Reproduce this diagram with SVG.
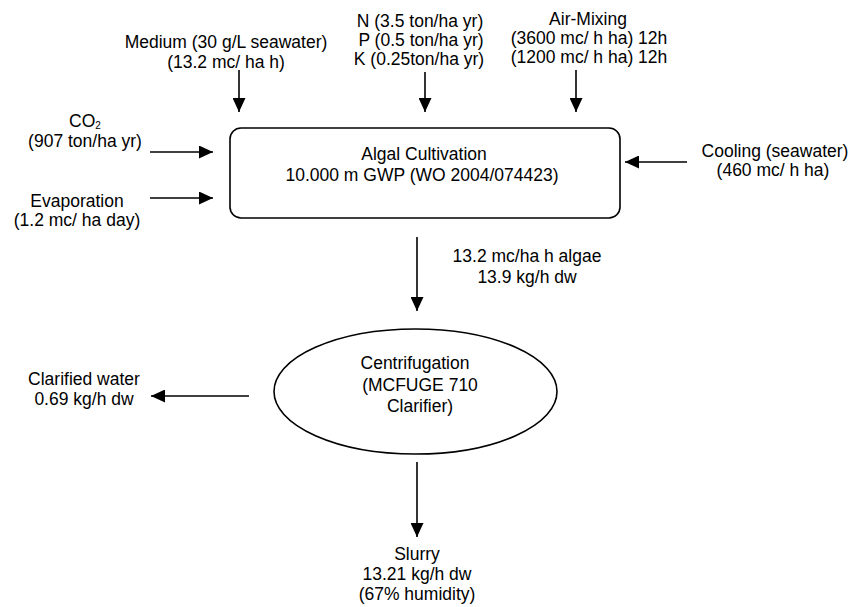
<svg xmlns="http://www.w3.org/2000/svg" width="851" height="607" viewBox="0 0 851 607">
  <defs>
    <marker id="arrow" viewBox="0 0 14 13" refX="14" refY="6.5" markerWidth="14" markerHeight="13" markerUnits="userSpaceOnUse" orient="auto">
      <path d="M0,0 L14,6.5 L0,13 Z" fill="#000"/>
    </marker>
    <style>
      text { font-family: "Liberation Sans", Arial, Helvetica, sans-serif; font-size: 17.5px; fill: #000; text-anchor: middle; }
      .shape { fill: #fff; stroke: #000; stroke-width: 1.6; }
      .flow { stroke: #000; stroke-width: 1.6; fill: none; marker-end: url(#arrow); }
    </style>
  </defs>
  <rect width="851" height="607" fill="#fff"/>

  <!-- process nodes -->
  <g id="algal-cultivation">
    <rect class="shape" x="230" y="128" width="390" height="90" rx="11" ry="11"/>
    <text x="424" y="160">Algal Cultivation</text>
    <text x="422" y="181">10.000 m GWP (WO 2004/074423)</text>
  </g>
  <g id="centrifugation">
    <ellipse class="shape" cx="415.5" cy="391.5" rx="141.5" ry="62.5"/>
    <text x="415" y="369">Centrifugation</text>
    <text x="420" y="391">(MCFUGE 710</text>
    <text x="420" y="412">Clarifier)</text>
  </g>

  <!-- inputs and outputs -->
  <g id="medium">
    <text x="226" y="48">Medium (30 g/L seawater)</text>
    <text x="226" y="68">(13.2 mc/ ha h)</text>
  </g>
  <g id="nutrients">
    <text x="420" y="27">N (3.5 ton/ha yr)</text>
    <text x="421" y="46">P (0.5 ton/ha yr)</text>
    <text x="419" y="65">K (0.25ton/ha yr)</text>
  </g>
  <g id="air-mixing">
    <text x="588" y="25">Air-Mixing</text>
    <text x="589" y="44">(3600 mc/ h ha) 12h</text>
    <text x="589" y="63">(1200 mc/ h ha) 12h</text>
  </g>
  <g id="co2">
    <text x="85" y="127">CO<tspan font-size="10" dy="2">2</tspan></text>
    <text x="85" y="147">(907 ton/ha yr)</text>
  </g>
  <g id="evaporation">
    <text x="77" y="207">Evaporation</text>
    <text x="77" y="226">(1.2 mc/ ha day)</text>
  </g>
  <g id="cooling">
    <text x="775" y="157">Cooling (seawater)</text>
    <text x="773" y="176">(460 mc/ h ha)</text>
  </g>
  <g id="algae-flow">
    <text x="527" y="262">13.2 mc/ha h algae</text>
    <text x="527" y="283">13.9 kg/h dw</text>
  </g>
  <g id="clarified-water">
    <text x="84" y="385">Clarified water</text>
    <text x="84" y="405">0.69 kg/h dw</text>
  </g>
  <g id="slurry">
    <text x="417" y="560">Slurry</text>
    <text x="417" y="580">13.21 kg/h dw</text>
    <text x="417" y="600">(67% humidity)</text>
  </g>

  <!-- connectors -->
  <g id="connectors">
    <line class="flow" x1="239" y1="70" x2="239" y2="112"/>
    <line class="flow" x1="425" y1="72" x2="425" y2="112"/>
    <line class="flow" x1="576" y1="70" x2="576" y2="112"/>
    <line class="flow" x1="150" y1="152" x2="213" y2="152"/>
    <line class="flow" x1="150" y1="198" x2="213" y2="198"/>
    <line class="flow" x1="687" y1="162" x2="625" y2="162"/>
    <line class="flow" x1="417" y1="237" x2="417" y2="311"/>
    <line class="flow" x1="249" y1="396" x2="151" y2="396"/>
    <line class="flow" x1="417" y1="462" x2="417" y2="537"/>
  </g>
</svg>
